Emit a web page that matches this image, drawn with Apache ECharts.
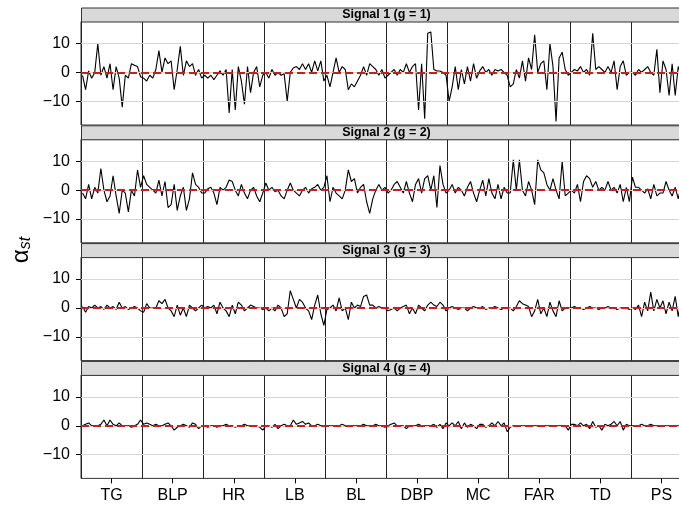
<!DOCTYPE html>
<html>
<head>
<meta charset="utf-8">
<script src="https://cdn.jsdelivr.net/npm/echarts@6/dist/echarts.min.js"></script>
<style>
  html, body { margin: 0; padding: 0; background: #fff; overflow: hidden; }
  #chart { width: 700px; height: 507px; }
</style>
</head>
<body>
<div id="chart"></div>
<script>
const categories = ['TG', 'BLP', 'HR', 'LB', 'BL', 'DBP', 'MC', 'FAR', 'TD', 'PS']
const yTicks = [-10, 0, 10]
const stripLabels = ['Signal 1 (g = 1)', 'Signal 2 (g = 2)', 'Signal 3 (g = 3)', 'Signal 4 (g = 4)']

// one list per category
const signal1 = [
    [-1, -6, 0.5, -2, 0, 10, -1, 2, -2, 3, -6, 2, -2, -12, -1, -2, 3, 2.5, 2, -1.5],
    [-2, -3, -1, -2, 1, 7.5, 0, 5, 3, 4, -6, 1, 9, -1, 4, 2, 3, -1, 1, -2],
    [-1, -2, -1, -2.5, -1, 0.5, -1, 1, -14, 1, -13, 2, -3, -11, 2, -7, 0, 2, -5, -1],
    [0, -2, 1, -1, 0, -1, -0.5, -10, 0, 1.5, 2, 1, 3, 1, 3, 0, 4, 0.5, 4, -3],
    [-1, -5, 0, 5, 0, 2, 1, -6, -4, -5, -3, -1, 2, -1, 3, 2, 1, -1, 1, -2],
    [-1, 0, 1, -1, 1, 0, 3, 0, 2, 3, -13, 3, -16, 13.5, 14, 1, 0.5, 0.5, 0, -1],
    [-10, -5, 2, -6, 1, -4, 2, -3, 3, -2, 0.5, 2, 0, 1, -1, 1, 0.5, 1, 0, -1],
    [-5, -4, 1, -2, 4, -3, 5, 1, 13, 0, 3, 4, -6, 10, 2, -17, 5, 7, 1, -1],
    [0, 1, 0.5, 2, 0, 1, -1, 13.5, 1, 2, 1, 0, 2, 0, 4, -6, 2, 4, -1, 0],
    [0, -1, 1, 0, 1, 2, 0, -1, 8, -7, 4, 1, -8, 3, -8, 2, -1, -8, 2, 1.5]
]
const signal2 = [
    [-1, -3, 2, -3, 1, -1, 7.5, 0, -4, -2, 5, -2, -8, 0, -1, -7.5, 0, -2, 7, 1],
    [5, 2, 1, 0, -1, 3.5, -2, 3, -6, -5, 2, -7, -2, 1, -7, -3, 6, 2, 1, -1],
    [-1, 0.5, 1, -1, -5, 1, 0, 1, 3.5, 3, 0, -2, 2, -1, -3, 0, 1, -2, -4, -1],
    [2.5, 0, 1, -0.5, 0, -2, -3, 0, 2.5, 0, -1, -2, 0, 1, -1, 0.5, 1, 2, 0, 1],
    [5, -4, 1, -1, -2, -3, 0, 7, 3, 4, -1, 1, 2, -4, -8, -3, 0, 2, 0, 1],
    [-1, 0, 2, 3, 1, -1, 3, -1, -4, 2, 4, -1, 4, 5, 0, 5, -6, 8.5, 2, -1],
    [0, 2, -1, 1, 0, -2, 1, 3, -1, -4, 0, 3.5, -2, 4, -1, -3, 2, -3, 1, -1],
    [-1, 10.5, 0, 10.5, 0, -2, 3, 0, -5, 10.5, 7, 6, 2, 0, 4, 0, -3, 10, -2, -1],
    [0, -1, 2, -4, 3, 5, 4, 1, 3, 0, 1, 0, 3, 0, 1, -1, 2, -4, 1, -4],
    [4.5, 1, 1, 0, -1, 0.5, -3, 2, -2, -1, -1, 3, 0, -2, 1, -3, 2, -1, 0, 1]
]
const signal3 = [
    [0.5, -1.5, 0.5, 0, 1, 0, 0.5, -0.5, 1, 0, 0.5, -0.5, 2, 0, 0.5, -0.5, 0, 0.5, 0, -1],
    [-1.5, 1.5, 0, 0, 0, 2.5, 1.5, 3, 0, -1, -3, 1, -2.5, 0, -3, 1, 0, -1, 0, 1],
    [0, 0.5, 0, 1, -2, 2, 0, -1, -3, 1, -2, 2, 1, -1, 0, 1, 0.5, 0, 0, -0.5],
    [0, -1, 0, -1, 1, 0, -3, -2, 6, 3, 0, 3, 2, 0, -1, -4, 1, 4.5, -2, -6],
    [-0.5, 0, 1, -1, 3.5, -1, 0, -4, 2, 0, 1, 0.5, 4, 4.5, 1, 1, 0, 0.5, 0, 0],
    [-1, -0.5, 0, -1, 0, 0.5, 1, -2, 0, -2, 1, 0, -1, 1, 2, 1, 0.5, 2, 1, -1],
    [0, 0.5, 0, -0.5, 0, 0, -1, 0, 0.5, 0, 0, 0.5, -0.5, 0, 0, 0.5, 0, -0.5, 0, 0],
    [0, -1, 0.5, 2.5, 1.5, 1, 0.5, -3, -1, 3, -2, 0, -3, 2, -1, -3, 2.5, -1, 0, 0],
    [0, 0.5, 0, 0, -0.5, 0, 0.5, 0, 0, -0.5, 0, 0, 0.5, 0, 0, -0.5, 0, 0, 0, -0.5],
    [0, -0.5, 1, -3, 2, -1, 5.5, -1, 3, 0, 2.5, -2, 2, -1, 4, -3, 3, 1, -2, 4]
]
const signal4 = [
    [0, 0.5, 1, 0, 0, 0, 0.5, 2, 0, 2, 0.5, 0, 1, 0, 0, 0, -0.5, 0, 0.5, 2],
    [0.5, 1, 0.5, 0, 0.5, 0, 0, 0.5, 1, 0, -1.5, -0.5, 0, 0.5, 0, -0.5, 1, 0.5, -1, 0],
    [0, -0.5, 0, 0, -0.5, 0, 0, 0.5, 0, 0, -0.5, 0, 0, 0.5, 0, 0, 0, 0, -0.5, -1.5],
    [0, 0, -0.5, 0.5, -1, 0, 0.5, 0, 0, 2, 0.5, 1, 1.5, 0.5, 1, 0, 0, 0.5, 0, 0],
    [0, 0, 0, 0, 0, 0.5, 0, 0, 0, 0, 0, 0, 0.5, 0, 0, 0, 0.5, 0, 0, -0.5],
    [0, 0.5, 1, 0, 0, 0, -1, 0, 0, 0, 0.5, 0, 0, 0, 0, 0.5, -0.5, 0.5, -1, 1],
    [0, 1, 0, 1.5, -1, 1, -0.5, 0.5, 0, -1, 0.5, 0.5, -0.5, 0, 1, 0, 1.5, 0, 1, -2],
    [-0.5, 0, 0, 0, 0, 0, 0, 0, 0, 0, 0, 0, 0, 0, 0, 0, 0, 0, 0, -1.5],
    [0.5, 0.5, 0, 1, 0, 0.5, -1, 1.5, -0.5, 0, -1.5, 0.5, 0, 0.5, 1.5, 0, 1.5, -1.5, 0.5, 0],
    [0, 0, 0, 0.5, 0, 0, 0.5, 0, 0, 0, 0, 0, 0, 0, 0, 0, 0, -0.5, -0.5, -1]
]
const signals = [signal1, signal2, signal3, signal4]

const font = 'Liberation Sans, Arial, Helvetica, sans-serif'
const panelStep = 117.8
const stripTop = 7.5
const stripH = 14
const plotH = 103.5
const left = 81
const fullW = 611

const grids = []
const xAxes = []
const yAxes = []
const series = []
const graphics = []

signals.forEach((sig, k) => {
    const top = stripTop + k * panelStep
    // the panel runs past the right edge of the window, as in the original
    grids.push({
        left: left, width: fullW, top: top + stripH, height: plotH,
        outerBoundsMode: 'none',
        show: true, borderColor: '#333', borderWidth: 1
    })
    xAxes.push({
        type: 'value', gridIndex: k, min: 0, max: 10, interval: 1,
        axisLine: { show: false }, axisTick: { show: false }, axisLabel: { show: false },
        splitLine: { show: true, lineStyle: { color: '#222', width: 1 } }
    })
    yAxes.push({
        type: 'value', gridIndex: k, min: -18.2, max: 17.6,
        axisLine: { show: false },
        axisTick: { show: true, length: 5, customValues: yTicks, lineStyle: { color: '#000' } },
        axisLabel: {
            customValues: yTicks, margin: 11, color: '#000', fontSize: 16, fontFamily: font,
            formatter: v => String(v).replace('-', '\u2212')
        },
        splitLine: { show: false }
    })
    // reference lines
    series.push({
        type: 'line', xAxisIndex: k, yAxisIndex: k, data: [], z: 1, silent: true,
        markLine: {
            silent: true, symbol: 'none', label: { show: false }, animation: false,
            lineStyle: { color: '#d6d6d6', type: 'solid', width: 1 },
            data: yTicks.map(v => ({ yAxis: v }))
        }
    })
    series.push({
        type: 'line', xAxisIndex: k, yAxisIndex: k, data: [], z: 2, silent: true,
        markLine: {
            silent: true, symbol: 'none', label: { show: false }, animation: false,
            lineStyle: { color: '#c42020', type: [8, 4], width: 2 },
            data: [{ yAxis: 0 }]
        }
    })
    const pts = []
    sig.forEach((grp, g) => {
        grp.forEach((v, j) => {
            pts.push([g + (j + 0.5) / grp.length, v])
        })
    })
    series.push({
        type: 'line', xAxisIndex: k, yAxisIndex: k, data: pts, z: 3,
        showSymbol: false, symbol: 'none',
        lineStyle: { color: '#000', width: 1.1 }
    })
    // strip
    graphics.push({
        type: 'rect', left: left, top: top, z: 10,
        shape: { x: 0, y: 0, width: fullW, height: stripH },
        style: { fill: '#d9d9d9', stroke: '#333', lineWidth: 1 }
    })
    graphics.push({
        type: 'text', x: left + fullW / 2, y: top + stripH / 2 + 0.5, z: 11,
        style: {
            text: stripLabels[k], fill: '#000', font: 'bold 12.5px ' + font,
            textAlign: 'center', textVerticalAlign: 'middle'
        }
    })
})

// category labels on the bottom panel
xAxes.push({
    type: 'category', gridIndex: 3, position: 'bottom', data: categories, boundaryGap: true,
    axisLine: { show: false },
    axisTick: { show: true, alignWithLabel: true, length: 5, lineStyle: { color: '#000' } },
    axisLabel: { color: '#000', fontSize: 16, fontFamily: font, margin: 9 },
    splitLine: { show: false }
})

graphics.push({
    type: 'text', x: 21, y: 250, rotation: Math.PI / 2, z: 11,
    style: {
        text: '{a|\u03b1}{b|st}',
        textAlign: 'center', textVerticalAlign: 'middle',
        rich: {
            a: { fontSize: 24, fontFamily: font, fill: '#000' },
            b: { fontSize: 16, fontStyle: 'italic', fontFamily: font, fill: '#000', padding: [9, 0, 0, 0] }
        }
    }
})

const myChart = echarts.init(document.getElementById('chart'))
myChart.setOption({
    animation: false,
    grid: grids,
    xAxis: xAxes,
    yAxis: yAxes,
    series: series,
    graphic: graphics
})
</script>
</body>
</html>
